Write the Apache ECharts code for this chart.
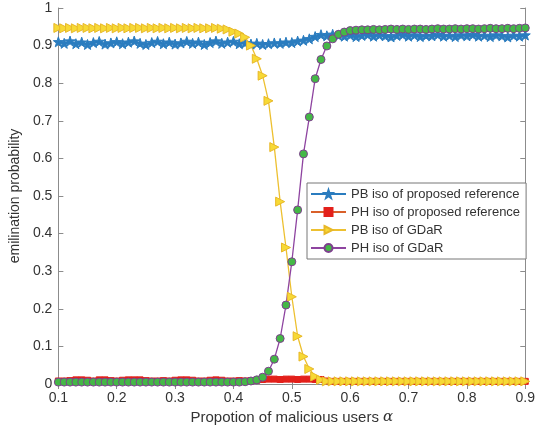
<!DOCTYPE html>
<html><head><meta charset="utf-8">
<script src="https://cdn.jsdelivr.net/npm/echarts@6/dist/echarts.min.js"></script>
<style>html,body{margin:0;padding:0;background:#fff;}#c{width:538px;height:432px;}</style>
</head><body><div id="c"></div>
<script>
const alpha = [0.10,0.11,0.12,0.13,0.14,0.15,0.16,0.17,0.18,0.19,0.20,0.21,0.22,0.23,0.24,0.25,0.26,0.27,0.28,0.29,0.30,0.31,0.32,0.33,0.34,0.35,0.36,0.37,0.38,0.39,0.40,0.41,0.42,0.43,0.44,0.45,0.46,0.47,0.48,0.49,0.50,0.51,0.52,0.53,0.54,0.55,0.56,0.57,0.58,0.59,0.60,0.61,0.62,0.63,0.64,0.65,0.66,0.67,0.68,0.69,0.70,0.71,0.72,0.73,0.74,0.75,0.76,0.77,0.78,0.79,0.80,0.81,0.82,0.83,0.84,0.85,0.86,0.87,0.88,0.89,0.90];
const pbProposed = [0.910,0.906,0.912,0.905,0.909,0.903,0.908,0.911,0.904,0.907,0.910,0.905,0.909,0.912,0.906,0.903,0.908,0.911,0.905,0.909,0.904,0.907,0.911,0.906,0.909,0.903,0.908,0.912,0.906,0.909,0.911,0.905,0.907,0.904,0.906,0.903,0.905,0.907,0.906,0.909,0.908,0.912,0.914,0.918,0.924,0.929,0.926,0.930,0.927,0.925,0.928,0.924,0.927,0.929,0.925,0.928,0.926,0.923,0.927,0.929,0.925,0.928,0.924,0.927,0.926,0.929,0.925,0.927,0.924,0.928,0.926,0.929,0.925,0.927,0.924,0.928,0.926,0.923,0.927,0.925,0.928];
const phProposed = [0.008,0.008,0.009,0.011,0.011,0.010,0.008,0.011,0.011,0.009,0.008,0.010,0.011,0.011,0.011,0.009,0.008,0.008,0.009,0.008,0.010,0.011,0.011,0.010,0.008,0.008,0.010,0.011,0.010,0.008,0.008,0.009,0.008,0.009,0.010,0.012,0.013,0.013,0.012,0.013,0.013,0.012,0.013,0.013,0.012,0.012,0.008,0.007,0.007,0.007,0.007,0.007,0.007,0.007,0.007,0.007,0.007,0.007,0.007,0.007,0.007,0.007,0.007,0.007,0.007,0.007,0.007,0.007,0.007,0.007,0.007,0.007,0.007,0.007,0.007,0.007,0.007,0.007,0.007,0.007,0.007];
const pbGDaR = [0.947,0.946,0.947,0.946,0.947,0.947,0.946,0.947,0.946,0.947,0.946,0.947,0.946,0.947,0.947,0.946,0.947,0.946,0.947,0.946,0.947,0.946,0.947,0.946,0.947,0.946,0.946,0.947,0.945,0.943,0.937,0.932,0.922,0.900,0.865,0.820,0.753,0.630,0.485,0.363,0.232,0.127,0.073,0.040,0.020,0.011,0.007,0.007,0.007,0.007,0.007,0.007,0.007,0.007,0.007,0.007,0.007,0.007,0.007,0.007,0.007,0.007,0.007,0.007,0.007,0.007,0.007,0.007,0.007,0.007,0.007,0.007,0.007,0.007,0.007,0.007,0.007,0.007,0.007,0.007,0.007];
const phGDaR = [0.005,0.005,0.005,0.005,0.005,0.005,0.005,0.005,0.005,0.005,0.005,0.005,0.005,0.005,0.005,0.005,0.005,0.005,0.005,0.005,0.005,0.005,0.005,0.005,0.005,0.005,0.005,0.005,0.005,0.005,0.005,0.005,0.006,0.008,0.011,0.018,0.034,0.066,0.121,0.210,0.325,0.463,0.612,0.710,0.812,0.863,0.899,0.918,0.930,0.936,0.940,0.941,0.942,0.942,0.943,0.942,0.943,0.944,0.943,0.944,0.943,0.944,0.944,0.943,0.944,0.945,0.944,0.944,0.945,0.944,0.945,0.945,0.944,0.945,0.946,0.945,0.945,0.946,0.945,0.946,0.947];
const seriesNames = ['PB iso of proposed reference','PH iso of proposed reference','PB iso of GDaR','PH iso of GDaR'];
const xTicks = ['0.1','0.2','0.3','0.4','0.5','0.6','0.7','0.8','0.9'];
const yTicks = ['0','0.1','0.2','0.3','0.4','0.5','0.6','0.7','0.8','0.9','1'];

const STAR = 'path://M0,-10L2.35,-3.24L9.51,-3.09L3.8,1.24L5.88,8.09L0,4L-5.88,8.09L-3.8,1.24L-9.51,-3.09L-2.35,-3.24Z';
const TRI = 'path://M0,0L10,5L0,10Z';
const pair = arr => alpha.map((a,i)=>[a,arr[i]]);
const font = '"Liberation Sans", Arial, sans-serif';
const txt = '#333';
const frame = '#8c8c8c';

const chart = echarts.init(document.getElementById('c'), null, {renderer:'canvas'});
function mkSeries(name, data, color, symbol, size, fill, edge, lw){
  return {name, type:'line', data, symbol, symbolSize:size, showSymbol:true,
    lineStyle:{color, width:lw}, itemStyle:{color:fill, borderColor:edge, borderWidth:1},
    emphasis:{disabled:true}, z:2};
}
chart.setOption({
  animation:false,
  backgroundColor:'#fff',
  grid:{left:53, right:10, top:8, bottom:48},
  legend:{
    orient:'vertical', left:307, top:183, padding:[4,6,4,3], itemGap:4,
    itemWidth:35, itemHeight:10, backgroundColor:'#fff', borderColor:'#777', borderWidth:1,
    textStyle:{fontFamily:font, fontSize:13, color:txt, lineHeight:14},
    data:seriesNames
  },
  xAxis:[{
    type:'value', min:0.1, max:0.9, interval:0.1, position:'bottom',
    name:'Propotion of malicious users {a|α}', nameLocation:'middle', nameGap:22,
    nameTextStyle:{fontFamily:font, fontSize:15, color:txt, rich:{a:{fontFamily:'"DejaVu Serif", serif', fontStyle:'italic', fontSize:15, color:txt}}},
    axisLine:{show:true, lineStyle:{color:frame, width:1}},
    axisTick:{show:true, inside:true, length:5, lineStyle:{color:frame}},
    axisLabel:{fontFamily:font, fontSize:14, color:txt, margin:7, formatter:(v)=>xTicks[Math.round((v-0.1)*10)]},
    splitLine:{show:false}
  },{
    type:'value', min:0.1, max:0.9, interval:0.1, position:'top',
    axisLine:{show:true, lineStyle:{color:frame, width:1}},
    axisTick:{show:true, inside:true, length:5, lineStyle:{color:frame}},
    axisLabel:{show:false}, splitLine:{show:false}
  }],
  yAxis:[{
    type:'value', min:0, max:1, interval:0.1, position:'left',
    name:'emilination probability', nameLocation:'middle', nameGap:33,
    nameTextStyle:{fontFamily:font, fontSize:14, color:txt},
    axisLine:{show:true, lineStyle:{color:frame, width:1}},
    axisTick:{show:true, inside:true, length:5, lineStyle:{color:frame}},
    axisLabel:{fontFamily:font, fontSize:14, color:txt, margin:6, formatter:(v)=>yTicks[Math.round(v*10)]},
    splitLine:{show:false}
  },{
    type:'value', min:0, max:1, interval:0.1, position:'right',
    axisLine:{show:true, lineStyle:{color:frame, width:1}},
    axisTick:{show:true, inside:true, length:5, lineStyle:{color:frame}},
    axisLabel:{show:false}, splitLine:{show:false}
  }],
  series:[
    mkSeries(seriesNames[0], pair(pbProposed), '#2a7cbf', STAR, 10, '#2a7cbf', '#2a7cbf', 1.3),
    mkSeries(seriesNames[1], pair(phProposed), '#d9602a', 'rect', 6, '#e3201b', '#e3201b', 1.3),
    mkSeries(seriesNames[2], pair(pbGDaR), '#edc030', TRI, 9, '#f7d935', '#e8b828', 1.3),
    mkSeries(seriesNames[3], pair(phGDaR), '#8e44a0', 'circle', 8, '#44b846', '#7e3f8e', 1.3)
  ]
});
</script></body></html>
